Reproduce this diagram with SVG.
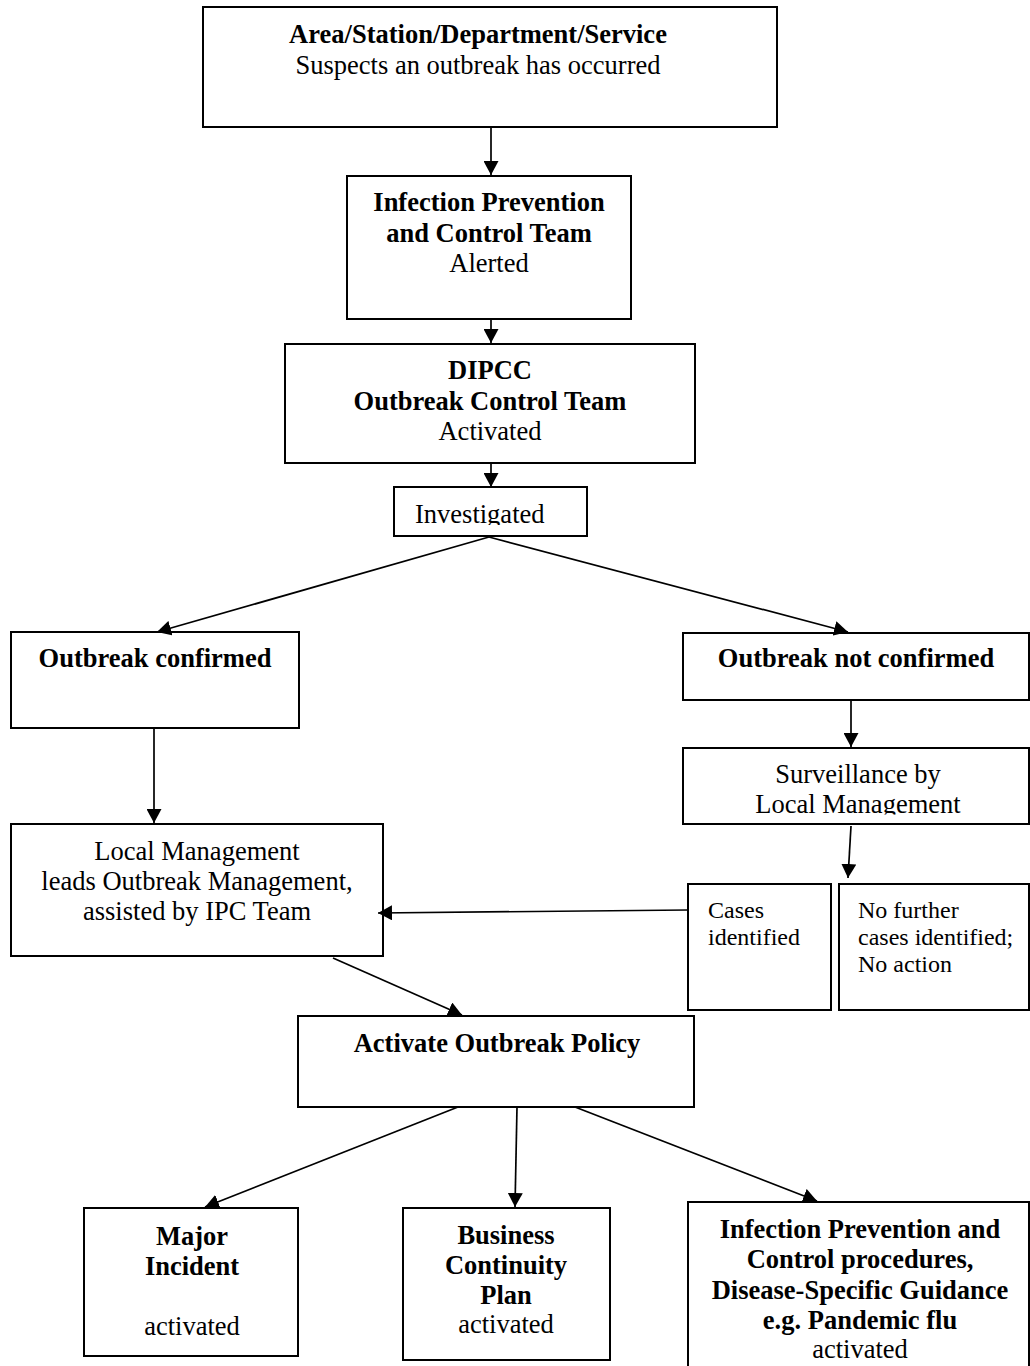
<svg xmlns="http://www.w3.org/2000/svg" width="1030" height="1366" viewBox="0 0 1030 1366">
<style>
.box{fill:#fff;stroke:#000;stroke-width:2}
.t{font-family:"Liberation Serif","Times New Roman",serif;font-size:26.5px;fill:#000}
.s{font-family:"Liberation Serif","Times New Roman",serif;font-size:24px;fill:#000}
.b{font-weight:bold}
.c{text-anchor:middle}
.conn line{stroke:#000;stroke-width:1.7;fill:none}
</style>
<defs>
<marker id="arr" markerUnits="userSpaceOnUse" markerWidth="15" markerHeight="15" refX="14" refY="7.5" orient="auto" viewBox="0 0 15 15">
<path d="M0,0 L14,7.5 L0,15 z" fill="#000"/>
</marker>
<clipPath id="clipInv"><rect x="394" y="487" width="193" height="38"/></clipPath>
<clipPath id="clipSurv"><rect x="683" y="748" width="346" height="66.5"/></clipPath>
</defs>
<rect width="1030" height="1366" fill="#fff"/>

<g id="n-area">
<rect class="box" x="203" y="7" width="574" height="120"/>
<text class="t b c" x="478" y="43">Area/Station/Department/Service</text>
<text class="t c" x="478" y="74">Suspects an outbreak has occurred</text>
</g>

<g id="n-ipct">
<rect class="box" x="347" y="176" width="284" height="143"/>
<text class="t b c" x="489" y="211">Infection Prevention</text>
<text class="t b c" x="489" y="242">and Control Team</text>
<text class="t c" x="489" y="272">Alerted</text>
</g>

<g id="n-dipcc">
<rect class="box" x="285" y="344" width="410" height="119"/>
<text class="t b c" x="490" y="379">DIPCC</text>
<text class="t b c" x="490" y="410">Outbreak Control Team</text>
<text class="t c" x="490" y="440">Activated</text>
</g>

<g id="n-investigated">
<rect class="box" x="394" y="487" width="193" height="49"/>
<text class="t" x="415" y="523" clip-path="url(#clipInv)">Investigated</text>
</g>

<g id="n-confirmed">
<rect class="box" x="11" y="632" width="288" height="96"/>
<text class="t b c" x="155" y="667">Outbreak confirmed</text>
</g>

<g id="n-notconfirmed">
<rect class="box" x="683" y="633" width="346" height="67"/>
<text class="t b c" x="856" y="667">Outbreak not confirmed</text>
</g>

<g id="n-surveillance">
<rect class="box" x="683" y="748" width="346" height="76"/>
<text class="t c" x="858" y="783">Surveillance by</text>
<text class="t c" x="858" y="813" clip-path="url(#clipSurv)">Local Management</text>
</g>

<g id="n-localmgmt">
<rect class="box" x="11" y="824" width="372" height="132"/>
<text class="t c" x="197" y="860">Local Management</text>
<text class="t c" x="197" y="890">leads Outbreak Management,</text>
<text class="t c" x="197" y="920">assisted by IPC Team</text>
</g>

<g id="n-cases">
<rect class="box" x="688" y="884" width="143" height="126"/>
<text class="s" x="708" y="918">Cases</text>
<text class="s" x="708" y="945">identified</text>
</g>

<g id="n-nofurther">
<rect class="box" x="839" y="884" width="190" height="126"/>
<text class="s" x="858" y="918">No further</text>
<text class="s" x="858" y="945">cases identified;</text>
<text class="s" x="858" y="972">No action</text>
</g>

<g id="n-activate">
<rect class="box" x="298" y="1016" width="396" height="91"/>
<text class="t b c" x="497" y="1052">Activate Outbreak Policy</text>
</g>

<g id="n-major">
<rect class="box" x="84" y="1208" width="214" height="148"/>
<text class="t b c" x="192" y="1245">Major</text>
<text class="t b c" x="192" y="1275">Incident</text>
<text class="t c" x="192" y="1335">activated</text>
</g>

<g id="n-bcp">
<rect class="box" x="403" y="1208" width="207" height="152"/>
<text class="t b c" x="506" y="1244">Business</text>
<text class="t b c" x="506" y="1274">Continuity</text>
<text class="t b c" x="506" y="1304">Plan</text>
<text class="t c" x="506" y="1333">activated</text>
</g>

<g id="n-ipcproc">
<rect class="box" x="688" y="1202" width="341" height="180"/>
<text class="t b c" x="860" y="1238">Infection Prevention and</text>
<text class="t b c" x="860" y="1268">Control procedures,</text>
<text class="t b c" x="860" y="1299">Disease-Specific Guidance</text>
<text class="t b c" x="860" y="1329">e.g. Pandemic flu</text>
<text class="t c" x="860" y="1358">activated</text>
</g>

<g id="connectors" class="conn">
<line x1="491" y1="127" x2="491" y2="175" marker-end="url(#arr)"/>
<line x1="491" y1="319" x2="491" y2="343" marker-end="url(#arr)"/>
<line x1="491" y1="463" x2="491" y2="487" marker-end="url(#arr)"/>
<line x1="489" y1="537" x2="157" y2="632" marker-end="url(#arr)"/>
<line x1="489" y1="537" x2="848" y2="632" marker-end="url(#arr)"/>
<line x1="154" y1="728" x2="154" y2="823" marker-end="url(#arr)"/>
<line x1="851" y1="700" x2="851" y2="747" marker-end="url(#arr)"/>
<line x1="851" y1="826" x2="848" y2="878" marker-end="url(#arr)"/>
<line x1="688" y1="910" x2="378" y2="913" marker-end="url(#arr)"/>
<line x1="333" y1="958" x2="462" y2="1015" marker-end="url(#arr)"/>
<line x1="458" y1="1107" x2="205" y2="1207" marker-end="url(#arr)"/>
<line x1="517" y1="1107" x2="515" y2="1207" marker-end="url(#arr)"/>
<line x1="575" y1="1107" x2="817" y2="1201" marker-end="url(#arr)"/>
</g>
</svg>
